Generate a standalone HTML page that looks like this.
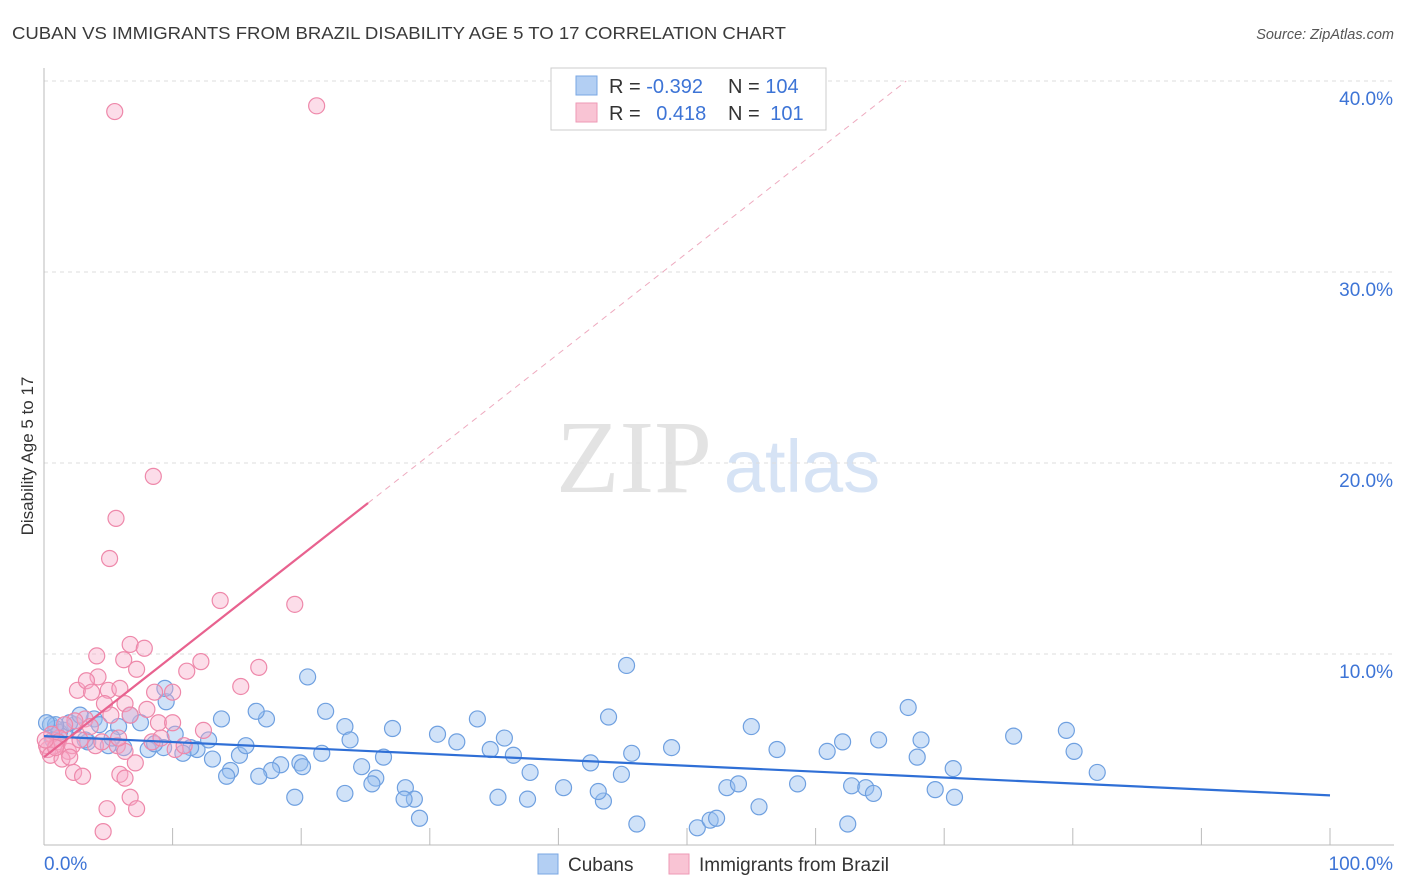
<!DOCTYPE html>
<html><head><meta charset="utf-8">
<style>
body{margin:0;background:#fff;font-family:"Liberation Sans",sans-serif;}
svg{display:block}
</style></head>
<body>
<svg id="chart" width="1406" height="892">
<text x="12" y="39" font-size="17.5" fill="#3a3a3a" textLength="774" lengthAdjust="spacingAndGlyphs">CUBAN VS IMMIGRANTS FROM BRAZIL DISABILITY AGE 5 TO 17 CORRELATION CHART</text>
<text x="1394" y="39" font-size="14.5" fill="#555" font-style="italic" text-anchor="end">Source: ZipAtlas.com</text>
<text x="33" y="456" font-size="17" fill="#333" text-anchor="middle" transform="rotate(-90 33 456)">Disability Age 5 to 17</text>
<g>
<text x="634" y="492" font-size="104" fill="#e3e3e3" font-family="Liberation Serif,serif" text-anchor="middle">ZIP</text>
<text x="802" y="492" font-size="74" fill="#d6e3f5" text-anchor="middle">atlas</text>
</g>
<g id="grid"></g>
<g id="axes"></g>
<g id="marks"></g>
<g>
<rect x="551" y="68" width="275" height="62" fill="#fff" stroke="#ccc"/>
<rect x="576" y="76" width="21" height="19" fill="#b3cff3" stroke="#7aa7e3"/>
<rect x="576" y="103" width="21" height="19" fill="#f9c4d4" stroke="#ee9ab6"/>
<text x="609" y="93" font-size="20" fill="#333">R = <tspan fill="#3d74d6">-0.392</tspan></text>
<text x="728" y="93" font-size="20" fill="#333">N = <tspan fill="#3d74d6">104</tspan></text>
<text x="609" y="120" font-size="20" fill="#333">R = <tspan fill="#3d74d6" dx="10">0.418</tspan></text>
<text x="728" y="120" font-size="20" fill="#333">N = <tspan fill="#3d74d6" dx="5">101</tspan></text>
</g>
<g>
<rect x="538" y="854" width="20" height="20" fill="#b3cff3" stroke="#7aa7e3"/>
<text x="568" y="871" font-size="19" fill="#333">Cubans</text>
<rect x="669" y="854" width="20" height="20" fill="#f9c4d4" stroke="#ee9ab6"/>
<text x="699" y="871" font-size="19" fill="#333">Immigrants from Brazil</text>
</g>
</svg>
<script>
const yTicks=[10,20,30,40];
const yTickLabels=["10.0%","20.0%","30.0%","40.0%"];
const xEndLabels=["0.0%","100.0%"];
const cubanX=[20.5,45.3,67.2,21.9,33.7,43.9,55.0,79.5,75.4,17.3,9.5,13.8,16.5,27.1,30.6,32.1,35.8,36.5,34.7,48.8,57.0,60.9,62.1,64.9,68.2,67.9,80.1,81.9,70.7,45.7,42.5,44.9,37.8,40.4,35.3,37.6,28.1,28.8,25.8,25.5,23.4,21.6,19.9,18.4,17.7,16.7,15.2,14.5,14.2,15.7,13.1,11.9,12.8,11.4,10.8,10.2,9.3,8.1,7.5,5.8,6.2,5.0,3.4,3.9,2.4,1.6,0.9,0.5,0.7,1.2,2.0,2.8,4.3,5.3,8.6,19.5,28.0,29.2,43.5,43.1,46.1,50.8,51.8,52.3,53.1,54.0,55.6,58.6,62.5,62.8,63.9,64.5,69.3,70.8,24.7,26.4,20.1,23.4,23.8,9.4,6.7,0.9,0.2,3.2];
const cubanY=[8.8,9.4,7.2,7.0,6.6,6.7,6.2,6.0,5.7,6.6,7.5,6.6,7.0,6.1,5.8,5.4,5.6,4.7,5.0,5.1,5.0,4.9,5.4,5.5,5.5,4.6,4.9,3.8,4.0,4.8,4.3,3.7,3.8,3.0,2.5,2.4,3.0,2.4,3.5,3.2,2.7,4.8,4.3,4.2,3.9,3.6,4.7,3.9,3.6,5.2,4.5,5.0,5.5,5.1,4.8,5.8,5.1,5.0,6.4,6.2,5.1,5.2,5.4,6.6,6.3,6.0,6.1,6.3,5.5,5.9,6.4,6.8,6.3,5.6,5.3,2.5,2.4,1.4,2.3,2.8,1.1,0.9,1.3,1.4,3.0,3.2,2.0,3.2,1.1,3.1,3.0,2.7,2.9,2.5,4.1,4.6,4.1,6.2,5.5,8.2,6.8,6.3,6.4,5.5];
const brazilX=[5.5,21.2,8.5,5.6,5.1,13.7,19.5,6.7,7.8,4.1,6.2,7.2,12.2,16.7,4.2,11.1,15.3,10.0,8.6,5.0,2.6,3.3,5.9,3.7,4.7,6.3,8.0,5.2,6.7,8.9,10.0,12.4,3.2,3.6,2.4,1.6,1.2,0.9,0.3,0.6,1.1,1.9,2.2,2.8,4.0,4.5,5.7,6.3,7.1,10.2,8.4,9.1,10.9,2.3,3.0,5.9,6.3,6.7,7.2,4.9,4.6,0.2,0.5,1.4,2.0,0.9,0.1,5.8];
const brazilY=[38.4,38.7,19.3,17.1,15.0,12.8,12.6,10.5,10.3,9.9,9.7,9.2,9.6,9.3,8.8,9.1,8.3,8.0,8.0,8.1,8.1,8.6,8.2,8.0,7.4,7.4,7.1,6.8,6.8,6.4,6.4,6.0,6.6,6.2,6.5,6.3,5.6,5.2,5.0,5.8,5.4,4.9,5.2,5.5,5.2,5.4,5.2,4.9,4.3,5.0,5.4,5.6,5.2,3.8,3.6,3.7,3.5,2.5,1.9,1.9,0.7,5.2,4.7,4.5,4.6,5.1,5.5,5.6];
const cubanTrend=[5.7,2.6];
const brazilTrend=[4.6,0.528];
const NS="http://www.w3.org/2000/svg";
const X0=44,X1=1330,Y0=845,PY=19.1;
const sx=v=>X0+(X1-X0)*v/100;
const sy=v=>Y0-PY*v;
function mk(tag,attrs,parent){const e=document.createElementNS(NS,tag);for(const k in attrs)e.setAttribute(k,attrs[k]);parent.appendChild(e);return e;}
const grid=document.getElementById('grid'),axes=document.getElementById('axes'),marks=document.getElementById('marks');
yTicks.forEach((t,i)=>{
 const l=mk('line',{x1:44,x2:1394,y1:sy(t),y2:sy(t),stroke:'#ddd','stroke-dasharray':'4,4'},grid);
 
 
 const tx=mk('text',{x:1393,y:sy(t)+24,'font-size':19,fill:'#3d74d6','text-anchor':'end'},axes);
 tx.textContent=yTickLabels[i];
 
 
});
let a=mk('line',{x1:44,x2:44,y1:68,y2:845,stroke:'#bbb'},axes);


a=mk('line',{x1:44,x2:1394,y1:845,y2:845,stroke:'#bbb'},axes);


for(let i=1;i<=10;i++){const t=mk('line',{x1:sx(i*10),x2:sx(i*10),y1:828,y2:845,stroke:'#bbb'},axes);
 
 }
let xl=mk('text',{x:44,y:870,'font-size':19,fill:'#3d74d6'},axes);xl.textContent=xEndLabels[0];


xl=mk('text',{x:1393,y:870,'font-size':19,fill:'#3d74d6','text-anchor':'end'},axes);xl.textContent=xEndLabels[1];


cubanX.forEach((v,i)=>{const c=mk('circle',{cx:sx(v),cy:sy(cubanY[i]),r:8,fill:'rgba(150,190,240,0.45)',stroke:'#6fa0e0','stroke-width':1.2},marks);
 
 });
brazilX.forEach((v,i)=>{const c=mk('circle',{cx:sx(v),cy:sy(brazilY[i]),r:8,fill:'rgba(247,170,200,0.4)',stroke:'#ee88aa','stroke-width':1.2},marks);
 
 });
let t=mk('line',{x1:sx(0),y1:sy(cubanTrend[0]),x2:sx(100),y2:sy(cubanTrend[1]),stroke:'#2f6fd6','stroke-width':2.2},marks);


const xe=25.2,xd=(40-brazilTrend[0])/brazilTrend[1];
t=mk('line',{x1:sx(0),y1:sy(brazilTrend[0]),x2:sx(xe),y2:sy(brazilTrend[0]+brazilTrend[1]*xe),stroke:'#e8628f','stroke-width':2.2},marks);


t=mk('line',{x1:sx(xe),y1:sy(brazilTrend[0]+brazilTrend[1]*xe),x2:sx(xd),y2:sy(40),stroke:'#eeaabf','stroke-width':1,'stroke-dasharray':'6,5'},marks);


</script>
</body></html>
